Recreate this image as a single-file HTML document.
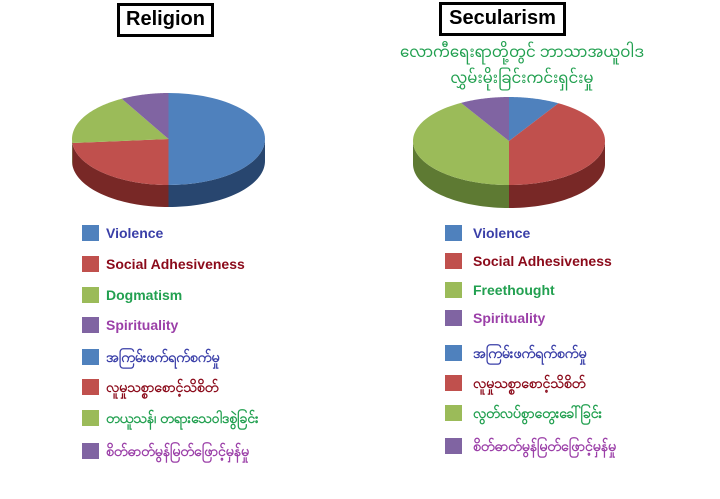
<!DOCTYPE html>
<html><head><meta charset="utf-8"><style>
body{margin:0;background:#fff;width:720px;height:499px;overflow:hidden;position:relative;font-family:"Liberation Sans",sans-serif}
.t{position:absolute;border:3px solid #000;font-weight:bold;font-size:20px;text-align:center;line-height:27px;box-sizing:border-box;height:34px}
.sq{position:absolute;width:17px;height:16px}
.lb{position:absolute;font-size:14px;font-weight:bold;line-height:16px;white-space:nowrap}
</style></head><body>
<div class="t" style="left:117px;top:3px;width:97px">Religion</div>
<div class="t" style="left:439px;top:2px;width:127px">Secularism</div>
<div style="position:absolute;left:362px;top:40px;width:320px;text-align:center;color:#22a050;font-size:15px;line-height:26px;white-space:nowrap;font-family:'Liberation Sans','Noto Sans Myanmar','Padauk',sans-serif">လောကီရေးရာတို့တွင် ဘာသာအယူဝါဒ<br>လွှမ်းမိုးခြင်းကင်းရှင်းမှု</div>
<svg id="s" width="720" height="499" style="position:absolute;left:0;top:0"></svg>
<div id="L"></div>
<script>
var S=document.getElementById('s'),ns='http://www.w3.org/2000/svg';
function pt(c,t){var r=t*Math.PI/180;return [c.cx+c.rx*Math.sin(r),c.cy-c.ry*Math.cos(r)];}
function add(d,f){var p=document.createElementNS(ns,'path');p.setAttribute('d',d);p.setAttribute('fill',f);S.appendChild(p);}
function pie(c,sl){
 sl.forEach(function(s){var a=Math.max(s[0],90),b=Math.min(s[1],270);if(b<=a)return;
  var d='',n=40,i,p;for(i=0;i<=n;i++){p=pt(c,a+(b-a)*i/n);d+=(i?'L':'M')+p[0]+' '+p[1];}
  for(i=n;i>=0;i--){p=pt(c,a+(b-a)*i/n);d+='L'+p[0]+' '+(p[1]+c.dp);}
  add(d+'Z',s[3]);});
 sl.forEach(function(s){var d='M'+c.cx+' '+c.cy,n=60,i,p;for(i=0;i<=n;i++){p=pt(c,s[0]+(s[1]-s[0])*i/n);d+='L'+p[0]+' '+p[1];}add(d+'Z',s[2]);});
}
var B=['#4f81bd','#28466f'],R=['#c0504d','#782826'],G=['#9bbb59','#5e7a33'],P=['#8064a2','#4e3a66'];
pie({cx:168.5,cy:139,rx:96.5,ry:46,dp:22},[[0,180,B[0],B[1]],[180,265,R[0],R[1]],[265,331,G[0],G[1]],[331,360,P[0],P[1]]]);
pie({cx:509,cy:141,rx:96,ry:44,dp:23},[[0,31,B[0],B[1]],[31,180,R[0],R[1]],[180,330,G[0],G[1]],[330,360,P[0],P[1]]]);
var cols=['#4f81bd','#c0504d','#9bbb59','#8064a2'],tc=['#3a3fa8','#8b0a1a','#22a050','#9b3fa8'];
var my=['အကြမ်းဖက်ရက်စက်မှု','လူမှုသစ္စာစောင့်သိစိတ်'];
var left=['Violence','Social Adhesiveness','Dogmatism','Spirituality',my[0],my[1],'တယူသန်၊ တရားသေဝါဒစွဲခြင်း','စိတ်ဓာတ်မွန်မြတ်ဖြောင့်မှန်မှု'];
var right=['Violence','Social Adhesiveness','Freethought','Spirituality',my[0],my[1],'လွတ်လပ်စွာတွေးခေါ်ခြင်း','စိတ်ဓာတ်မွန်မြတ်ဖြောင့်မှန်မှု'];
var ly=[225,256,287,317,349,379,410,443],ry=[225,253,282,310,345,375,405,438],h='';
for(var i=0;i<8;i++){
 h+='<div class="sq" style="left:82px;top:'+ly[i]+'px;background:'+cols[i%4]+'"></div><div class="lb" style="left:106px;top:'+ly[i]+'px;color:'+tc[i%4]+'">'+left[i]+'</div>';
 h+='<div class="sq" style="left:445px;top:'+ry[i]+'px;background:'+cols[i%4]+'"></div><div class="lb" style="left:473px;top:'+ry[i]+'px;color:'+tc[i%4]+'">'+right[i]+'</div>';
}
document.getElementById('L').innerHTML=h;
</script>
</body></html>
